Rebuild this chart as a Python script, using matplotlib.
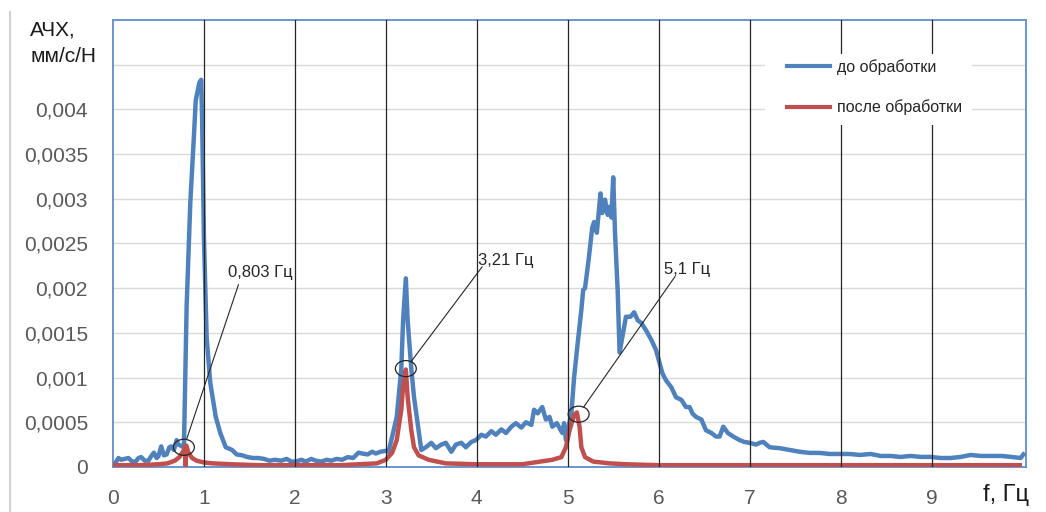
import matplotlib
matplotlib.use("Agg")
import matplotlib.pyplot as plt
from matplotlib.patches import Ellipse, Rectangle
from matplotlib.lines import Line2D

# АЧХ до обработки (blue)
freq_before = [0.03, 0.06, 0.09, 0.13, 0.17, 0.21, 0.25, 0.28, 0.31, 0.35, 0.39, 0.42, 0.45, 0.48,
               0.50, 0.53, 0.56, 0.59, 0.62, 0.64, 0.67, 0.70, 0.72, 0.74, 0.78, 0.81, 0.85, 0.89,
               0.91, 0.95, 0.97, 0.98, 1.00, 1.03, 1.07, 1.13, 1.18, 1.24, 1.31, 1.36, 1.42, 1.48,
               1.54, 1.60, 1.66, 1.72, 1.78, 1.85, 1.91, 1.96, 2.01, 2.07, 2.12, 2.18, 2.23, 2.29,
               2.35, 2.40, 2.46, 2.52, 2.58, 2.64, 2.70, 2.74, 2.80, 2.85, 2.89, 2.94, 3.00, 3.03,
               3.07, 3.12, 3.17, 3.19, 3.22, 3.24, 3.28, 3.31, 3.34, 3.39, 3.44, 3.50, 3.55, 3.61,
               3.66, 3.72, 3.77, 3.83, 3.88, 3.94, 3.99, 4.05, 4.10, 4.16, 4.21, 4.27, 4.32, 4.38,
               4.43, 4.49, 4.54, 4.60, 4.63, 4.67, 4.72, 4.76, 4.80, 4.83, 4.88, 4.94, 4.96, 4.98,
               5.04, 5.07, 5.11, 5.15, 5.17, 5.19, 5.23, 5.27, 5.29, 5.32, 5.34, 5.36, 5.38, 5.41,
               5.44, 5.46, 5.48, 5.50, 5.52, 5.55, 5.57, 5.60, 5.64, 5.69, 5.73, 5.77, 5.81, 5.86,
               5.92, 5.97, 6.01, 6.04, 6.08, 6.14, 6.19, 6.25, 6.30, 6.34, 6.37, 6.41, 6.47, 6.52,
               6.58, 6.63, 6.67, 6.71, 6.76, 6.82, 6.89, 6.94, 7.00, 7.07, 7.11, 7.15, 7.22, 7.33,
               7.44, 7.55, 7.66, 7.77, 7.88, 7.99, 8.10, 8.21, 8.33, 8.44, 8.55, 8.66, 8.77, 8.88,
               8.99, 9.10, 9.21, 9.32, 9.43, 9.54, 9.66, 9.77, 9.88, 9.98, 10.01]
amp_before = [0.00005, 0.0001, 0.00008, 0.00009, 0.0001, 0.00006, 0.00006, 0.0001, 0.00011, 0.00007,
              0.00007, 0.00012, 0.00016, 0.0001, 0.00012, 0.00023, 0.00013, 0.00014, 0.00022, 0.00023,
              0.00019, 0.0003, 0.00025, 0.00024, 0.00022, 0.0018, 0.00295, 0.0037, 0.0041, 0.0043,
              0.00433, 0.0039, 0.00257, 0.00145, 0.00094, 0.00056, 0.00038, 0.00022, 0.00019, 0.00014,
              0.00013, 0.00011, 0.0001, 0.0001, 0.00009, 0.00007, 0.00008, 0.00007, 0.00009, 0.00006,
              0.00006, 0.00008, 0.00006, 0.00009, 0.00007, 0.00006, 0.00008, 0.00007, 0.00009, 0.00008,
              0.00011, 0.0001, 0.00016, 0.00015, 0.00014, 0.00017, 0.00015, 0.00017, 0.00018, 0.00017,
              0.00034, 0.00056, 0.0011, 0.00164, 0.00211, 0.00164, 0.0011, 0.00078, 0.00056, 0.00019,
              0.00022, 0.00027, 0.00021, 0.00025, 0.00027, 0.00017, 0.00025, 0.00027, 0.00022, 0.00028,
              0.0003, 0.00036, 0.00034, 0.0004, 0.00036, 0.00042, 0.00038, 0.00045, 0.00049, 0.00044,
              0.0005, 0.00047, 0.00064, 0.0006, 0.00067, 0.00053, 0.00056, 0.00045, 0.00049, 0.00038,
              0.00049, 0.0003, 0.0006, 0.001, 0.00139, 0.00176, 0.00198, 0.002, 0.00232, 0.00268,
              0.00274, 0.00262, 0.00284, 0.00306, 0.00284, 0.00299, 0.00282, 0.00291, 0.00279, 0.00324,
              0.00262, 0.00195, 0.00128, 0.00145, 0.00168, 0.00168, 0.00173, 0.00164, 0.00161, 0.00153,
              0.00142, 0.00131, 0.00116, 0.00105, 0.00097, 0.00089, 0.00078, 0.00075, 0.00067, 0.00067,
              0.0006, 0.00056, 0.00053, 0.00041, 0.00038, 0.00034, 0.00034, 0.00045, 0.00038, 0.00034,
              0.0003, 0.00028, 0.00027, 0.00025, 0.00027, 0.00028, 0.00022, 0.00021, 0.00019, 0.00017,
              0.000157, 0.000157, 0.000145, 0.000145, 0.000145, 0.000134, 0.000145, 0.000123, 0.000123,
              0.000112, 0.000123, 0.000112, 0.000112, 0.0001, 0.0001, 0.000112, 0.000134, 0.000123,
              0.000123, 0.000123, 0.000112, 0.0001, 0.00014]

# АЧХ после обработки (red)
freq_after = [0.0, 0.3, 0.5, 0.6, 0.68, 0.73, 0.77, 0.79, 0.80, 0.805, 0.83, 0.87, 0.92, 1.0, 1.1,
              1.3, 1.6, 2.5, 2.9, 3.0, 3.07, 3.12, 3.17, 3.19, 3.22, 3.24, 3.28, 3.31, 3.36, 3.47,
              3.66, 4.0, 4.5, 4.83, 4.93, 4.98, 5.02, 5.07, 5.1, 5.13, 5.15, 5.19, 5.28, 5.46, 5.64,
              6.0, 9.97]
amp_after = [0.00002, 0.00002, 0.00003, 0.00004, 0.00007, 0.00011, 0.00017, 0.00022, 0.00001, 0.00024,
             0.00016, 0.0001, 0.00007, 0.00005, 0.00004, 0.00003, 0.00002, 0.00002, 0.00004, 0.00008,
             0.00016, 0.0003, 0.00064, 0.0009, 0.00109, 0.00078, 0.00041, 0.00022, 0.00013, 0.00008,
             0.00004, 0.00003, 0.00003, 0.00008, 0.00011, 0.00022, 0.00041, 0.00058, 0.00061, 0.00045,
             0.00022, 0.00011, 0.00006, 0.00004, 0.00003, 0.00002, 0.00002]

# marked resonances: label, circle centre, end of leader line, label position
peak_labels = ["0,803 Гц", "3,21 Гц", "5,1 Гц"]
peak_points = [(0.78, 0.00022), (3.22, 0.0011), (5.12, 0.00059)]
leader_ends = [(1.38, 0.00204), (4.06, 0.00224), (6.18, 0.00213)]
label_points = [(1.26, 0.00218), (4.01, 0.00231), (6.06, 0.00221)]

x_ticks = [0, 1, 2, 3, 4, 5, 6, 7, 8, 9]
y_ticks = [0, 0.0005, 0.001, 0.0015, 0.002, 0.0025, 0.003, 0.0035, 0.004, 0.0045]
y_labels = ["0", "0,0005", "0,001", "0,0015", "0,002", "0,0025", "0,003", "0,0035", "0,004", ""]

BLUE = "#4F81BD"
RED = "#C0504D"


def graphic():
    plt.rcParams["font.family"] = ["Liberation Sans", "DejaVu Sans"]
    fig = plt.figure(figsize=(10.46, 5.12), dpi=100)
    ax = fig.add_axes([0.108, 0.088, 0.873, 0.873])

    ax.plot(freq_before, amp_before, color=BLUE, lw=3.2, label="до обработки", zorder=3,
            solid_joinstyle="round")
    ax.plot(freq_after, amp_after, color=RED, lw=3.2, label="после обработки", zorder=3,
            solid_joinstyle="round")

    ax.set_xlim(0, 10.04)
    ax.set_ylim(0, 0.005)
    ax.set_xticks(x_ticks)
    ax.set_yticks(y_ticks)
    ax.set_yticklabels(y_labels)
    ax.tick_params(length=0, labelsize=15, labelcolor="#595959")
    ax.tick_params(axis="y", pad=18)
    ax.tick_params(axis="x", pad=16)
    ax.grid(axis="y", color="#D9D9D9", lw=1, zorder=0)
    for x in x_ticks[1:]:
        ax.axvline(x, color="#262626", lw=0.9, zorder=4)
    for s in ax.spines.values():
        s.set_color("#6A95D0")
        s.set_linewidth(1.4)

    # circles and leader lines
    for text, (px, py), (ex, ey), (tx, ty) in zip(peak_labels, peak_points, leader_ends, label_points):
        ax.add_patch(Ellipse((px, py), 0.23, 0.00018, fill=False, edgecolor="#262626", lw=0.9, zorder=5))
        ax.annotate("", xy=(px, py), xytext=(ex, ey),
                    arrowprops=dict(arrowstyle="-", color="#262626", lw=0.8, shrinkA=0, shrinkB=6),
                    zorder=5)
        ax.text(tx, ty, text, fontsize=12, color="#262626", ha="left", va="center", zorder=6)

    # white legend area over the grid
    ax.add_patch(Rectangle((0.714, 0.765), 0.2267, 0.159, transform=ax.transAxes,
                           facecolor="white", edgecolor="none", zorder=8))
    leg = ax.legend(loc="upper left", bbox_to_anchor=(0.7382, 0.913), fontsize=11.5, frameon=False,
                    handlelength=2.7, labelspacing=1.55, borderpad=0, borderaxespad=0,
                    handletextpad=0.4)
    leg.set_zorder(10)
    for line in leg.get_lines():
        line.set_linewidth(3)
    for t in leg.get_texts():
        t.set_color("#262626")

    fig.text(30 / 1046, 1 - 20 / 512, "АЧХ,\nмм/с/Н", fontsize=15, color="#1a1a1a",
             ha="left", va="top", linespacing=1.5)
    fig.text(983 / 1046, 1 - 495 / 512, "f, Гц", fontsize=17, color="#1a1a1a", ha="left", va="center")
    fig.add_artist(Line2D([10 / 1046, 10 / 1046], [0, 1 - 12 / 512], color="#D0D0D0", lw=1.5))

    fig.savefig("out.png", dpi=100)


def main():
    graphic()


if __name__ == "__main__":
    main()
